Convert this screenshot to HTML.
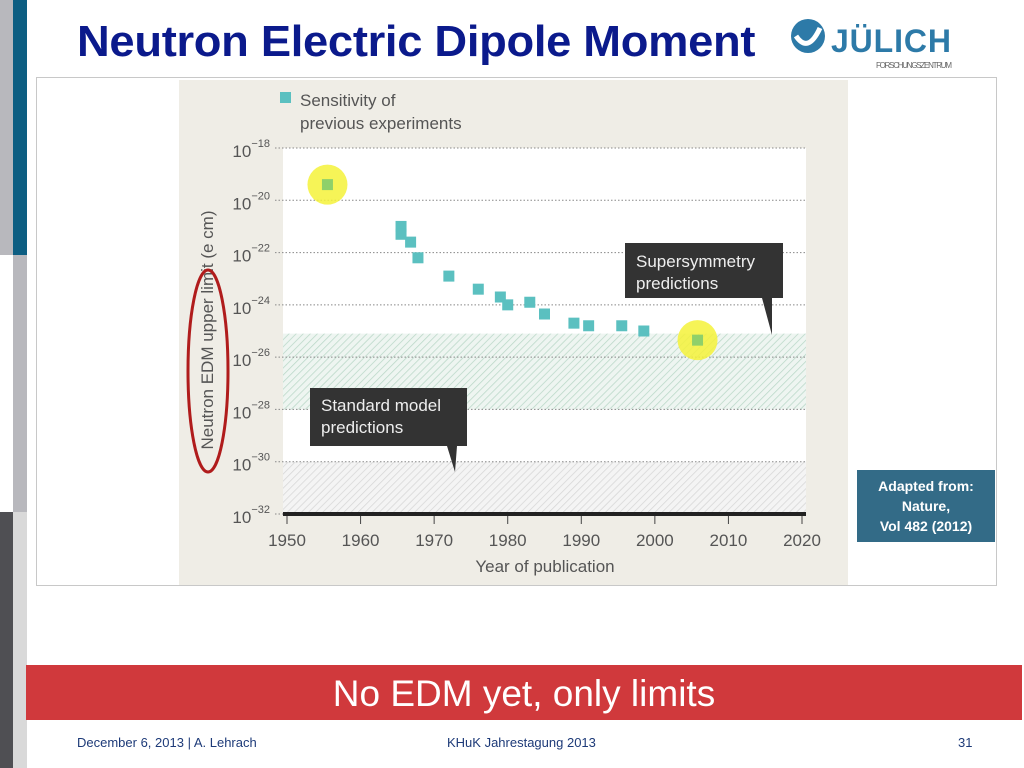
<!DOCTYPE html>
<html><head><meta charset="utf-8"><style>
body{margin:0;width:1024px;height:768px;overflow:hidden;background:#fff;font-family:"Liberation Sans",sans-serif;position:relative}
.a{position:absolute}
</style></head><body>
<div class="a" style="left:0;top:0;width:13px;height:255px;background:#b8b8bd"></div>
<div class="a" style="left:13px;top:0;width:14px;height:255px;background:#0d5e82"></div>
<div class="a" style="left:13px;top:255px;width:14px;height:257px;background:#b8b8bd"></div>
<div class="a" style="left:0;top:512px;width:13px;height:256px;background:#4f4f53"></div>
<div class="a" style="left:13px;top:512px;width:14px;height:256px;background:#d9d9d9"></div>
<div class="a" style="left:77px;top:17px;font-size:44px;font-weight:bold;color:#0b1a8c;letter-spacing:-0.3px;transform:scaleX(1.03);transform-origin:left top;white-space:nowrap">Neutron Electric Dipole Moment</div>
<div class="a" style="left:788px;top:14px;width:170px;height:60px">
<svg width="170" height="60"><circle cx="20" cy="22" r="17" fill="#2d7aa8"/><path d="M8 22 Q20 40 32 14" stroke="#fff" stroke-width="5" fill="none"/>
<text x="43" y="38" font-family="Liberation Sans" font-weight="bold" font-size="32" fill="#2d7aa8" textLength="120">JÜLICH</text>
<text x="88" y="54" font-family="Liberation Sans" font-size="8" fill="#666" textLength="76">FORSCHUNGSZENTRUM</text></svg></div>
<div class="a" style="left:36px;top:77px;width:959px;height:507px;border:1px solid #c8c8c8"></div>
<svg class="a" style="left:0;top:0" width="1024" height="768" id="chart">
<defs>
<pattern id="hg" patternUnits="userSpaceOnUse" width="5" height="5" patternTransform="rotate(45)"><rect width="5" height="5" fill="#eef5f1"/><line x1="0" y1="0" x2="0" y2="5" stroke="#b9d7c7" stroke-width="1.5"/></pattern>
<pattern id="hgr" patternUnits="userSpaceOnUse" width="5" height="5" patternTransform="rotate(45)"><rect width="5" height="5" fill="#f4f4f4"/><line x1="0" y1="0" x2="0" y2="5" stroke="#d6d6d6" stroke-width="1.5"/></pattern>
</defs>
<rect x="179" y="80" width="669" height="505" fill="#efede6"/>
<rect x="283" y="148" width="523" height="366" fill="#fff"/>
<g id="bands"></g><g id="grid"></g><g id="xt"></g><g id="pts"></g>
<rect x="283" y="512" width="523" height="4" fill="#222"/>
<rect x="280" y="92" width="11" height="11" fill="#5bc0c0"/>
<text x="300" y="106" font-size="17" fill="#555">Sensitivity of</text>
<text x="300" y="129" font-size="17" fill="#555">previous experiments</text>
<g><rect x="625" y="243" width="158" height="55" fill="#333"/><path d="M762 298 L772 298 L772 335 Z" fill="#333"/>
<text x="636" y="267" font-size="17" fill="#eee">Supersymmetry</text><text x="636" y="289" font-size="17" fill="#eee">predictions</text></g>
<g><rect x="310" y="388" width="157" height="58" fill="#333"/><path d="M447 446 L457 446 L455 472 Z" fill="#333"/>
<text x="321" y="411" font-size="17" fill="#eee">Standard model</text><text x="321" y="433" font-size="17" fill="#eee">predictions</text></g>
<text transform="translate(213,330) rotate(-90)" text-anchor="middle" font-size="17" fill="#555">Neutron EDM upper limit (e cm)</text>
<ellipse cx="208" cy="371" rx="20" ry="101" fill="none" stroke="#b01c1c" stroke-width="3"/>
<text x="545" y="572" text-anchor="middle" font-size="17" fill="#555">Year of publication</text>
</svg>
<div class="a" style="left:857px;top:470px;width:138px;height:72px;background:#336b87;color:#fff;font-size:14px;font-weight:bold;text-align:center;line-height:20px;padding-top:6px;box-sizing:border-box">Adapted from:<br>Nature,<br>Vol 482 (2012)</div>
<div class="a" style="left:26px;top:665px;width:996px;height:55px;background:#d0393c;color:#fff;font-size:37px;text-align:center;line-height:58px">No EDM yet, only limits</div>
<div class="a" style="left:77px;top:735px;font-size:13px;color:#1d3a78">December 6, 2013 | A. Lehrach</div>
<div class="a" style="left:447px;top:735px;font-size:13px;color:#1d3a78">KHuK Jahrestagung 2013</div>
<div class="a" style="left:958px;top:735px;font-size:13px;color:#1d3a78">31</div>
<script>
const years=[1955.5,1965.5,1965.5,1966.8,1967.8,1972,1976,1979,1980,1983,1985,1989,1991,1995.5,1998.5,2005.8];
const exps=[-19.4,-21.0,-21.3,-21.6,-22.2,-22.9,-23.4,-23.7,-24.0,-23.9,-24.35,-24.7,-24.8,-24.8,-25.0,-25.35];
const highlighted=[true,false,false,false,false,false,false,false,false,false,false,false,false,false,false,true];
const yTicks=[-18,-20,-22,-24,-26,-28,-30,-32];
const xTicks=[1950,1960,1970,1980,1990,2000,2010,2020];
const susyBand=[-25.1,-28];
const smBand=[-30,-32];
const NS='http://www.w3.org/2000/svg';
const X=y=>287+(y-1950)*(802-287)/70;
const Y=e=>148+(-18-e)*(514-148)/14;
function mk(t,a,p){const el=document.createElementNS(NS,t);for(const k in a)el.setAttribute(k,a[k]);p.appendChild(el);return el;}
const B=document.getElementById('bands');
let r=mk('rect',{x:283,y:Y(susyBand[0]),width:523,height:Y(susyBand[1])-Y(susyBand[0]),fill:'url(#hg)'},B);


r=mk('rect',{x:283,y:Y(smBand[0]),width:523,height:Y(smBand[1])-Y(smBand[0]),fill:'url(#hgr)'},B);


const G=document.getElementById('grid');
yTicks.forEach(e=>{const y=Y(e);
 const l=mk('line',{x1:275,x2:806,y1:y,y2:y,stroke:'#888','stroke-dasharray':'1.5 2'},G);
 
 
 const t=mk('text',{x:270,y:y+9,'text-anchor':'end','font-size':17,fill:'#555'},G);
 
 
 t.textContent='10';
 const s=mk('tspan',{dy:-10,'font-size':11},t);s.textContent=String(e).replace('-','−');});
const XT=document.getElementById('xt');
xTicks.forEach(v=>{const x=X(v);
 const l=mk('line',{x1:x,x2:x,y1:514,y2:524,stroke:'#444','stroke-width':1},XT);
 
 
 const t=mk('text',{x:x,y:546,'text-anchor':'middle','font-size':17,fill:'#555'},XT);
 
 
 t.textContent=v;});
const P=document.getElementById('pts');
years.forEach((yr,i)=>{const x=X(yr),y=Y(exps[i]);
 if(highlighted[i]){const c=mk('circle',{cx:x,cy:y,r:20,fill:'#f4f23a',opacity:0.85},P);
  
  }
 const m=mk('rect',{x:x-5.5,y:y-5.5,width:11,height:11,fill:highlighted[i]?'#8fd06a':'#5bc0c0'},P);
 
 });
</script>
</body></html>
